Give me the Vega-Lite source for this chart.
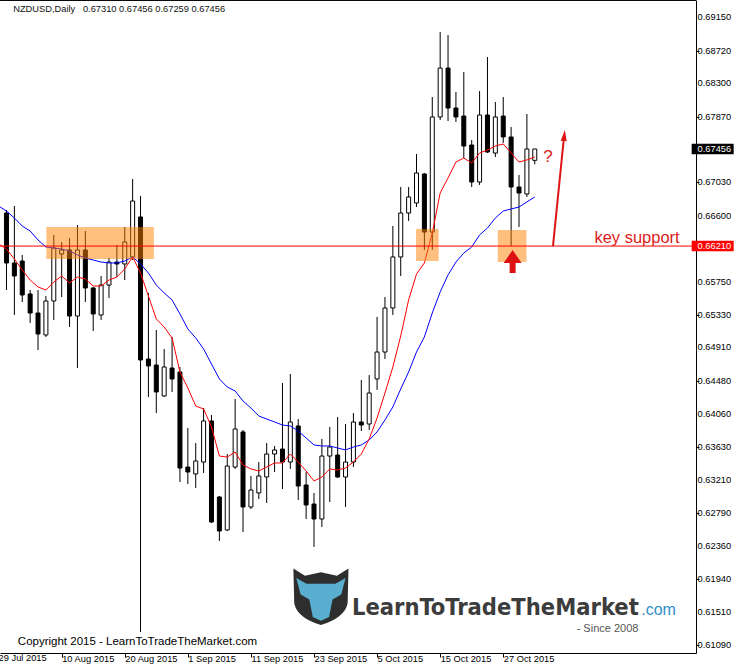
{
  "$schema": "https://vega.github.io/schema/vega-lite/v6.json",
  "width": 696,
  "height": 653,
  "autosize": {"type": "none"},
  "padding": {"left": 0, "top": 0, "right": 43, "bottom": 11},
  "background": "white",
  "config": {"view": {"stroke": null}, "font": "Liberation Sans", "axis": {"labelOverlap": false, "labelFlush": false, "labelBound": false, "grid": false}},
  "data": {"values": [
    {"bar":0,"ma8":0.66237,"ma21":0.66724},
    {"bar":1,"open":0.66634,"high":0.66673,"low":0.65646,"close":0.65993,"ma8":0.66172,"ma21":0.6666},
    {"bar":2,"open":0.65993,"high":0.66724,"low":0.65325,"close":0.65826,"ma8":0.66044,"ma21":0.6657},
    {"bar":3,"open":0.66018,"high":0.66095,"low":0.65492,"close":0.65582,"ma8":0.65903,"ma21":0.66467},
    {"bar":4,"open":0.65595,"high":0.65646,"low":0.65222,"close":0.65351,"ma8":0.65774,"ma21":0.66403},
    {"bar":5,"open":0.65351,"high":0.65646,"low":0.64876,"close":0.65081,"ma8":0.65685,"ma21":0.66288},
    {"bar":6,"open":0.65069,"high":0.65569,"low":0.65043,"close":0.65505,"ma8":0.65646,"ma21":0.66198},
    {"bar":7,"open":0.65505,"high":0.66352,"low":0.65261,"close":0.66185,"ma8":0.65749,"ma21":0.66185},
    {"bar":8,"open":0.66108,"high":0.66262,"low":0.65556,"close":0.6616,"ma8":0.65826,"ma21":0.66172},
    {"bar":9,"open":0.6616,"high":0.66314,"low":0.65171,"close":0.65312,"ma8":0.65736,"ma21":0.66147},
    {"bar":10,"open":0.65312,"high":0.6648,"low":0.64645,"close":0.6616,"ma8":0.65813,"ma21":0.66096},
    {"bar":11,"open":0.6616,"high":0.66403,"low":0.65492,"close":0.65672,"ma8":0.65787,"ma21":0.66057},
    {"bar":12,"open":0.65672,"high":0.65685,"low":0.6512,"close":0.65338,"ma8":0.65697,"ma21":0.66031},
    {"bar":13,"open":0.65325,"high":0.65826,"low":0.65261,"close":0.6571,"ma8":0.65697,"ma21":0.66005},
    {"bar":14,"open":0.6571,"high":0.66057,"low":0.65543,"close":0.66005,"ma8":0.65774,"ma21":0.65993},
    {"bar":15,"open":0.66005,"high":0.66224,"low":0.65813,"close":0.6598,"ma8":0.65813,"ma21":0.65993},
    {"bar":16,"open":0.6598,"high":0.66455,"low":0.65774,"close":0.66262,"ma8":0.65916,"ma21":0.66018},
    {"bar":17,"open":0.6607,"high":0.67071,"low":0.66031,"close":0.66788,"ma8":0.6607,"ma21":0.6607},
    {"bar":18,"open":0.66583,"high":0.66853,"low":0.61257,"close":0.64748,"ma8":0.65864,"ma21":0.6598},
    {"bar":19,"open":0.6476,"high":0.65608,"low":0.64273,"close":0.64671,"ma8":0.65569,"ma21":0.65864},
    {"bar":20,"open":0.64683,"high":0.65133,"low":0.64067,"close":0.64337,"ma8":0.65274,"ma21":0.6571},
    {"bar":21,"open":0.64286,"high":0.64889,"low":0.64273,"close":0.64658,"ma8":0.65171,"ma21":0.65608},
    {"bar":22,"open":0.64645,"high":0.65043,"low":0.64337,"close":0.64504,"ma8":0.6503,"ma21":0.65518},
    {"bar":23,"open":0.64594,"high":0.64658,"low":0.63182,"close":0.63361,"ma8":0.64594,"ma21":0.65338},
    {"bar":24,"open":0.63374,"high":0.63875,"low":0.63156,"close":0.6331,"ma8":0.64388,"ma21":0.65146},
    {"bar":25,"open":0.63285,"high":0.63682,"low":0.63105,"close":0.63451,"ma8":0.64157,"ma21":0.6503},
    {"bar":26,"open":0.63438,"high":0.64132,"low":0.63297,"close":0.63965,"ma8":0.64119,"ma21":0.64889},
    {"bar":27,"open":0.63965,"high":0.64042,"low":0.62655,"close":0.62668,"ma8":0.63888,"ma21":0.64696},
    {"bar":28,"open":0.62989,"high":0.63002,"low":0.62425,"close":0.62553,"ma8":0.63515,"ma21":0.64504},
    {"bar":29,"open":0.62566,"high":0.63541,"low":0.62553,"close":0.63387,"ma8":0.63502,"ma21":0.64401},
    {"bar":30,"open":0.63374,"high":0.64247,"low":0.63349,"close":0.63862,"ma8":0.63567,"ma21":0.6435},
    {"bar":31,"open":0.63824,"high":0.6385,"low":0.6254,"close":0.62861,"ma8":0.634,"ma21":0.64221},
    {"bar":32,"open":0.62861,"high":0.63259,"low":0.62835,"close":0.63079,"ma8":0.63349,"ma21":0.64132},
    {"bar":33,"open":0.63041,"high":0.63438,"low":0.62964,"close":0.63259,"ma8":0.63323,"ma21":0.64029},
    {"bar":34,"open":0.63246,"high":0.63682,"low":0.62912,"close":0.63541,"ma8":0.63374,"ma21":0.6399},
    {"bar":35,"open":0.63541,"high":0.63644,"low":0.6331,"close":0.63593,"ma8":0.63426,"ma21":0.63952},
    {"bar":36,"open":0.63605,"high":0.64452,"low":0.63092,"close":0.63438,"ma8":0.63426,"ma21":0.63913},
    {"bar":37,"open":0.63438,"high":0.64568,"low":0.63349,"close":0.63952,"ma8":0.63541,"ma21":0.63901},
    {"bar":38,"open":0.63901,"high":0.6399,"low":0.62951,"close":0.6313,"ma8":0.63438,"ma21":0.63836},
    {"bar":39,"open":0.63143,"high":0.6331,"low":0.62707,"close":0.62887,"ma8":0.63323,"ma21":0.63747},
    {"bar":40,"open":0.62899,"high":0.63041,"low":0.62348,"close":0.62707,"ma8":0.63195,"ma21":0.63657},
    {"bar":41,"open":0.62707,"high":0.63734,"low":0.62604,"close":0.63515,"ma8":0.63246,"ma21":0.63644},
    {"bar":42,"open":0.63515,"high":0.63888,"low":0.62925,"close":0.63631,"ma8":0.63349,"ma21":0.63644},
    {"bar":43,"open":0.63528,"high":0.64016,"low":0.63233,"close":0.63246,"ma8":0.63336,"ma21":0.63618},
    {"bar":44,"open":0.63246,"high":0.63926,"low":0.62861,"close":0.63438,"ma8":0.63361,"ma21":0.63593},
    {"bar":45,"open":0.63438,"high":0.64067,"low":0.63374,"close":0.63952,"ma8":0.63438,"ma21":0.63631},
    {"bar":46,"open":0.63952,"high":0.64491,"low":0.63836,"close":0.63913,"ma8":0.63541,"ma21":0.63657},
    {"bar":47,"open":0.63926,"high":0.64555,"low":0.63849,"close":0.64324,"ma8":0.63734,"ma21":0.63721},
    {"bar":48,"open":0.64504,"high":0.653,"low":0.64363,"close":0.6485,"ma8":0.64003,"ma21":0.63824},
    {"bar":49,"open":0.6485,"high":0.65556,"low":0.6476,"close":0.65415,"ma8":0.64324,"ma21":0.63978},
    {"bar":50,"open":0.65415,"high":0.66468,"low":0.65325,"close":0.6607,"ma8":0.64658,"ma21":0.64145},
    {"bar":51,"open":0.6607,"high":0.66968,"low":0.65826,"close":0.66634,"ma8":0.65056,"ma21":0.64376},
    {"bar":52,"open":0.66634,"high":0.66968,"low":0.66532,"close":0.6684,"ma8":0.65518,"ma21":0.64594},
    {"bar":53,"open":0.66763,"high":0.67392,"low":0.66711,"close":0.67148,"ma8":0.65851,"ma21":0.6485},
    {"bar":54,"open":0.67135,"high":0.67148,"low":0.6616,"close":0.6639,"ma8":0.65993,"ma21":0.65043},
    {"bar":55,"open":0.6639,"high":0.68123,"low":0.6616,"close":0.67867,"ma8":0.66378,"ma21":0.65351},
    {"bar":56,"open":0.67867,"high":0.68958,"low":0.67828,"close":0.68495,"ma8":0.66891,"ma21":0.65621},
    {"bar":57,"open":0.68495,"high":0.68919,"low":0.67815,"close":0.67982,"ma8":0.67084,"ma21":0.65839},
    {"bar":58,"open":0.67982,"high":0.68187,"low":0.67802,"close":0.67867,"ma8":0.67289,"ma21":0.66005},
    {"bar":59,"open":0.67879,"high":0.68444,"low":0.6734,"close":0.67494,"ma8":0.6734,"ma21":0.66121},
    {"bar":60,"open":0.67507,"high":0.67571,"low":0.66968,"close":0.67032,"ma8":0.67276,"ma21":0.66198},
    {"bar":61,"open":0.67032,"high":0.682,"low":0.66994,"close":0.67892,"ma8":0.67404,"ma21":0.66352},
    {"bar":62,"open":0.67892,"high":0.68637,"low":0.67404,"close":0.67417,"ma8":0.67443,"ma21":0.66442},
    {"bar":63,"open":0.67404,"high":0.68059,"low":0.67353,"close":0.67867,"ma8":0.67494,"ma21":0.6657},
    {"bar":64,"open":0.67879,"high":0.68123,"low":0.67533,"close":0.6761,"ma8":0.6752,"ma21":0.6666},
    {"bar":65,"open":0.6761,"high":0.67738,"low":0.66205,"close":0.66968,"ma8":0.67404,"ma21":0.66686},
    {"bar":66,"open":0.66968,"high":0.67122,"low":0.66455,"close":0.66891,"ma8":0.67289,"ma21":0.66711},
    {"bar":67,"open":0.66878,"high":0.67905,"low":0.6684,"close":0.67456,"ma8":0.67315,"ma21":0.66776},
    {"bar":68,"open":0.6731,"high":0.67456,"low":0.67259,"close":0.67456,"ma8":0.67353,"ma21":0.6684}
  ]},
  "layer": [
    {
      "mark": {"type": "rule", "color": "black", "strokeWidth": 1},
      "encoding": {
        "x": {"field": "bar", "type": "quantitative", "title": null,
          "scale": {"domain": [0.8125, 87.8125], "nice": false, "zero": false},
          "axis": {"orient": "bottom", "values": [0, 8, 16, 24, 32, 40, 48, 56, 64],
            "labelExpr": "['29 Jul 2015','10 Aug 2015','20 Aug 2015','1 Sep 2015','11 Sep 2015','23 Sep 2015','5 Oct 2015','15 Oct 2015','27 Oct 2015'][round(datum.value/8)]",
            "labelAlign": "left", "labelFlush": false, "labelOverlap": false, "labelBound": false,
            "labelBaseline": "alphabetic", "labelPadding": 4, "tickSize": 4, "tickColor": "black",
            "domainColor": "black", "grid": false, "labelFont": "Liberation Sans", "labelFontSize": 9.3, "labelColor": "black"}},
        "y": {"field": "low", "type": "quantitative", "title": null,
          "scale": {"domain": [0.609869, 0.693682], "nice": false, "zero": false},
          "axis": {"orient": "right", "values": [0.6915, 0.6872, 0.683, 0.6787, 0.67456, 0.6703, 0.666, 0.6621, 0.6575, 0.6533, 0.6491, 0.6448, 0.6406, 0.6363, 0.6321, 0.6279, 0.6236, 0.6194, 0.6151, 0.6109],
            "labels": false, "tickSize": 3, "tickColor": "black",
            "domainColor": "black", "grid": false}},
        "y2": {"field": "high"}
      }
    },
    {
      "mark": {"type": "bar", "width": 4, "stroke": "black", "strokeWidth": 1},
      "encoding": {
        "x": {"field": "bar", "type": "quantitative", "title": null},
        "y": {"field": "open", "type": "quantitative", "title": null},
        "y2": {"field": "close"},
        "fill": {"condition": {"test": "datum.close < datum.open", "value": "black"}, "value": "white"}
      }
    },
    {
      "mark": {"type": "line", "color": "#0000FF", "strokeWidth": 1},
      "encoding": {
        "x": {"field": "bar", "type": "quantitative", "title": null},
        "y": {"field": "ma21", "type": "quantitative", "title": null}
      }
    },
    {
      "mark": {"type": "line", "color": "#FF0000", "strokeWidth": 1},
      "encoding": {
        "x": {"field": "bar", "type": "quantitative", "title": null},
        "y": {"field": "ma8", "type": "quantitative", "title": null}
      }
    },
    {
      "data": {"values": [
        {"from": 6.06, "to": 19.69, "bottom": 0.66044, "top": 0.66455},
        {"from": 52.94, "to": 55.81, "bottom": 0.66018, "top": 0.66429},
        {"from": 63.31, "to": 66.94, "bottom": 0.66005, "top": 0.66416}
      ]},
      "mark": {"type": "rect", "color": "#FF8000", "opacity": 0.5},
      "encoding": {
        "x": {"field": "from", "type": "quantitative", "title": null},
        "x2": {"field": "to"},
        "y": {"field": "bottom", "type": "quantitative", "title": null},
        "y2": {"field": "top"}
      }
    },
    {
      "data": {"values": [{}]},
      "mark": {"type": "rule", "color": "#FF0000", "strokeWidth": 1},
      "encoding": {"y": {"datum": 0.6621, "type": "quantitative"}}
    },
    {
      "data": {"values": [{}]},
      "mark": {"type": "rule", "color": "black", "strokeWidth": 1},
      "encoding": {"y": {"datum": 0.69362, "type": "quantitative"}}
    },
    {
      "data": {"values": [
        {"price": 0.6915}, {"price": 0.6872}, {"price": 0.683}, {"price": 0.6787}, {"price": 0.6703}, {"price": 0.666},
        {"price": 0.6575}, {"price": 0.6533}, {"price": 0.6491}, {"price": 0.6448}, {"price": 0.6406}, {"price": 0.6363},
        {"price": 0.6321}, {"price": 0.6279}, {"price": 0.6236}, {"price": 0.6194}, {"price": 0.6151}, {"price": 0.6109}
      ]},
      "mark": {"type": "text", "color": "black", "align": "left", "baseline": "middle", "font": "Liberation Sans", "fontSize": 9.3},
      "encoding": {
        "x": {"datum": 88.65, "type": "quantitative"},
        "y": {"field": "price", "type": "quantitative", "title": null},
        "text": {"field": "price", "type": "quantitative", "format": ".5f"}
      }
    },
    {
      "data": {"values": [{"price": 0.67456, "label": "0.67456"}, {"price": 0.6621, "label": "0.66210"}]},
      "mark": {"type": "point", "filled": true, "opacity": 1, "size": 1764, "shape": "M-1,-0.25L1,-0.25L1,0.25L-1,0.25Z"},
      "encoding": {
        "x": {"datum": 90.56, "type": "quantitative"},
        "y": {"field": "price", "type": "quantitative", "title": null},
        "color": {"field": "label", "type": "nominal", "scale": {"domain": ["0.67456", "0.66210"], "range": ["#000000", "#FF0000"]}, "legend": null}
      }
    },
    {
      "data": {"values": [{"price": 0.67456, "label": "0.67456"}, {"price": 0.6621, "label": "0.66210"}]},
      "mark": {"type": "text", "color": "white", "align": "left", "baseline": "middle", "font": "Liberation Sans", "fontSize": 9.3},
      "encoding": {
        "x": {"datum": 88.65, "type": "quantitative"},
        "y": {"field": "price", "type": "quantitative", "title": null},
        "text": {"field": "label"}
      }
    },
    {
      "data": {"values": [{}]},
      "mark": {"type": "text", "text": "29 Jul 2015", "color": "black", "align": "left", "baseline": "alphabetic", "font": "Liberation Sans", "fontSize": 9.3},
      "encoding": {"x": {"datum": 0.0, "type": "quantitative"}, "y": {"datum": 0.60884, "type": "quantitative"}}
    },
    {
      "data": {"values": [{}]},
      "mark": {"type": "text", "text": "key support", "color": "#DD1C1C", "align": "left", "baseline": "alphabetic", "font": "Liberation Sans", "fontSize": 16.5},
      "encoding": {"x": {"datum": 75.56, "type": "quantitative"}, "y": {"datum": 0.66249, "type": "quantitative"}}
    },
    {
      "data": {"values": [{}]},
      "mark": {"type": "text", "text": "?", "color": "#DD1C1C", "align": "left", "baseline": "alphabetic", "font": "Liberation Sans", "fontSize": 17},
      "encoding": {"x": {"datum": 69.06, "type": "quantitative"}, "y": {"datum": 0.67289, "type": "quantitative"}}
    },
    {
      "data": {"values": [{}]},
      "mark": {"type": "rule", "color": "#DD1515", "strokeWidth": 2},
      "encoding": {
        "x": {"datum": 70.31, "type": "quantitative"}, "x2": {"datum": 71.69},
        "y": {"datum": 0.6621, "type": "quantitative"}, "y2": {"datum": 0.67597}
      }
    },
    {
      "data": {"values": [{}]},
      "mark": {"type": "point", "filled": true, "opacity": 1, "color": "#DD1515", "size": 121, "angle": 6, "shape": "M0,-1L0.55,1L-0.55,1Z"},
      "encoding": {"x": {"datum": 71.74, "type": "quantitative"}, "y": {"datum": 0.676291, "type": "quantitative"}}
    },
    {
      "data": {"values": [{}]},
      "mark": {"type": "point", "filled": true, "opacity": 1, "color": "#DD1111", "size": 529, "shape": "M0,-1L0.78,0.13L0.26,0.13L0.26,1L-0.26,1L-0.26,0.13L-0.78,0.13Z"},
      "encoding": {"x": {"datum": 65.19, "type": "quantitative"}, "y": {"datum": 0.660118, "type": "quantitative"}}
    },
    {
      "data": {"values": [{}]},
      "mark": {"type": "text", "text": "NZDUSD,Daily\u00a0\u00a0 0.67310 0.67456 0.67259 0.67456", "color": "#111111", "align": "left", "baseline": "alphabetic", "font": "Liberation Sans", "fontSize": 9.3},
      "encoding": {"x": {"datum": 1.85, "type": "quantitative"}, "y": {"datum": 0.69218, "type": "quantitative"}}
    },
    {
      "data": {"values": [{}]},
      "mark": {"type": "text", "text": "Copyright 2015 - LearnToTradeTheMarket.com", "color": "black", "align": "left", "baseline": "alphabetic", "font": "Liberation Sans", "fontSize": 11.5},
      "encoding": {"x": {"datum": 2.44, "type": "quantitative"}, "y": {"datum": 0.6109, "type": "quantitative"}}
    },
    {
      "data": {"values": [{}]},
      "mark": {"type": "point", "filled": true, "opacity": 1, "color": "#2e2e2e", "size": 3364, "shape": "M-0.95,-0.95L-0.55,-0.7L0,-0.82L0.55,-0.7L0.95,-0.95L0.92,0.25C0.85,0.65 0.4,0.88 0,1C-0.4,0.88 -0.85,0.65 -0.92,0.25Z"},
      "encoding": {"x": {"datum": 40.88, "type": "quantitative"}, "y": {"datum": 0.617185, "type": "quantitative"}}
    },
    {
      "data": {"values": [{}]},
      "mark": {"type": "point", "filled": true, "opacity": 1, "color": "#5aaed0", "size": 3364, "shape": "M-0.85,-0.62L-0.5,-0.42L0.5,-0.42L0.85,-0.62L0.7,-0.05L0.4,0.12L0.28,0.72L0,0.85L-0.28,0.72L-0.4,0.12L-0.7,-0.05Z"},
      "encoding": {"x": {"datum": 40.88, "type": "quantitative"}, "y": {"datum": 0.617185, "type": "quantitative"}}
    },
    {
      "data": {"values": [{}]},
      "mark": {"type": "text", "text": "LearnToTradeTheMarket", "color": "#3c3c3c", "align": "left", "baseline": "alphabetic", "font": "Liberation Sans Narrow, DejaVu Sans Condensed, Liberation Sans", "fontWeight": "bold", "fontSize": 23.5},
      "encoding": {"x": {"datum": 44.81, "type": "quantitative"}, "y": {"datum": 0.614747, "type": "quantitative"}}
    },
    {
      "data": {"values": [{}]},
      "mark": {"type": "text", "text": ".com", "color": "#2f8fc4", "align": "left", "baseline": "alphabetic", "font": "Liberation Sans", "fontSize": 16},
      "encoding": {"x": {"datum": 81.5, "type": "quantitative"}, "y": {"datum": 0.614747, "type": "quantitative"}}
    },
    {
      "data": {"values": [{}]},
      "mark": {"type": "text", "text": "- Since 2008", "color": "#555555", "align": "left", "baseline": "alphabetic", "font": "Liberation Sans Narrow, Liberation Sans", "fontSize": 11},
      "encoding": {"x": {"datum": 73.31, "type": "quantitative"}, "y": {"datum": 0.612565, "type": "quantitative"}}
    }
  ]
}
